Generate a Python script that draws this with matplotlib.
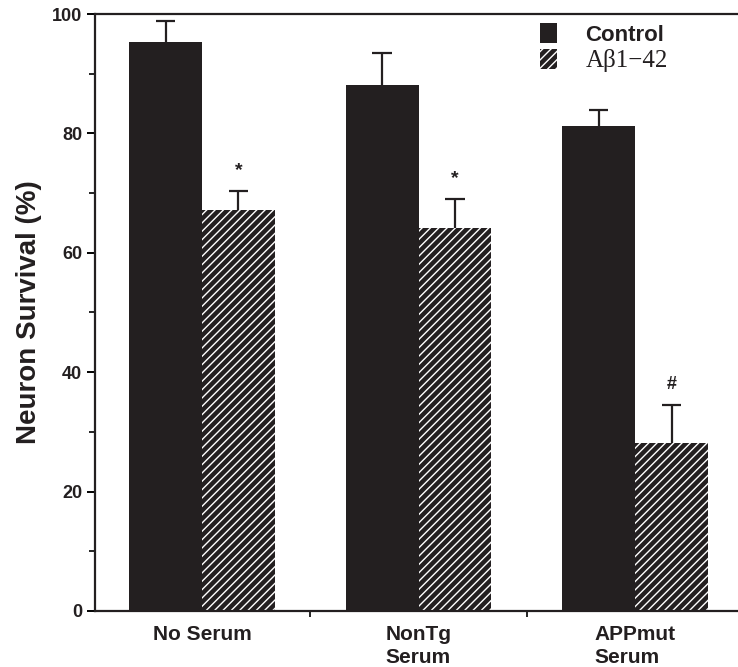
import numpy as np
import matplotlib.pyplot as plt
from matplotlib.patches import Patch

groups = ['No Serum', 'NonTg\nSerum', 'APPmut\nSerum']
control = [95.3, 88.1, 81.2]
control_err = [3.5, 5.4, 2.7]
abeta = [67.2, 64.2, 28.1]
abeta_err = [3.2, 4.8, 6.4]
marks = ['*', '*', '#']

dark = '#231f20'
x = np.arange(len(groups))
w = 0.336
cap = 0.045

fig = plt.figure(figsize=(7.38, 6.67), dpi=100)
ax = fig.add_axes([0.129, 0.084, 0.871, 0.895])

ax.bar(x - w / 2, control, w, color=dark, linewidth=0)
ax.bar(x + w / 2, abeta, w, color=dark, edgecolor='white', hatch='////', linewidth=0)

# upper-only error bars
for xs, ys, es in [(x - w / 2, control, control_err), (x + w / 2, abeta, abeta_err)]:
    top = np.array(ys) + np.array(es)
    ax.vlines(xs, ys, top, color=dark, linewidth=1.6)
    ax.hlines(top, xs - cap, xs + cap, color=dark, linewidth=1.6)

# significance marks above the A-beta bars
for i in range(len(groups)):
    ax.text(x[i] + w / 2, abeta[i] + abeta_err[i] + 2.0, marks[i], ha='center', va='bottom',
            fontsize=13 if marks[i] == '#' else 14, fontweight='bold', color=dark,
            family='Liberation Sans')

ax.set_xlim(-0.493, 2.475)
ax.set_ylim(0, 100)
ax.set_yticks([0, 20, 40, 60, 80, 100])
ax.set_yticks([10, 30, 50, 70, 90], minor=True)
ax.set_xticks(x)
ax.set_xticklabels(groups, multialignment='left', linespacing=1.3)
ax.set_xticks([0.5, 1.5], minor=True)
ax.tick_params(axis='x', which='major', length=0, pad=10)
ax.tick_params(axis='x', which='minor', length=4, width=1.2, direction='out')
ax.tick_params(axis='y', which='major', length=6, width=1.4, direction='out')
ax.tick_params(axis='y', which='minor', length=4, width=1.2, direction='out')
for lab in ax.get_yticklabels():
    lab.set_family('Liberation Sans')
    lab.set_fontweight('bold')
    lab.set_fontsize(13)
    lab.set_color(dark)
for lab in ax.get_xticklabels():
    lab.set_family('Liberation Sans')
    lab.set_fontweight('bold')
    lab.set_fontsize(15)
    lab.set_color(dark)

ax.set_ylabel('Neuron Survival (%)', family='Liberation Sans', fontweight='bold',
              fontsize=20, color=dark, labelpad=7)

for s in ['left', 'top', 'bottom']:
    ax.spines[s].set_linewidth(1.6)
    ax.spines[s].set_color(dark)
ax.spines['right'].set_visible(False)

handles = [Patch(facecolor=dark, linewidth=0),
           Patch(facecolor=dark, edgecolor='white', hatch='////', linewidth=0)]
leg = ax.legend(handles, ['Control', 'A\u03b21\u221242'], loc='upper left',
                bbox_to_anchor=(0.692, 0.985), frameon=False, borderpad=0, borderaxespad=0,
                prop=dict(family='Liberation Sans', weight='bold', size=16),
                handlelength=0.75, handleheight=1.0, handletextpad=1.3, labelspacing=0.15)
leg.get_texts()[0].set_color(dark)
leg.get_texts()[1].set_family('Liberation Serif')
leg.get_texts()[1].set_fontweight('normal')
leg.get_texts()[1].set_fontsize(18)
leg.get_texts()[1].set_color(dark)

fig.savefig('out.png', dpi=100)
